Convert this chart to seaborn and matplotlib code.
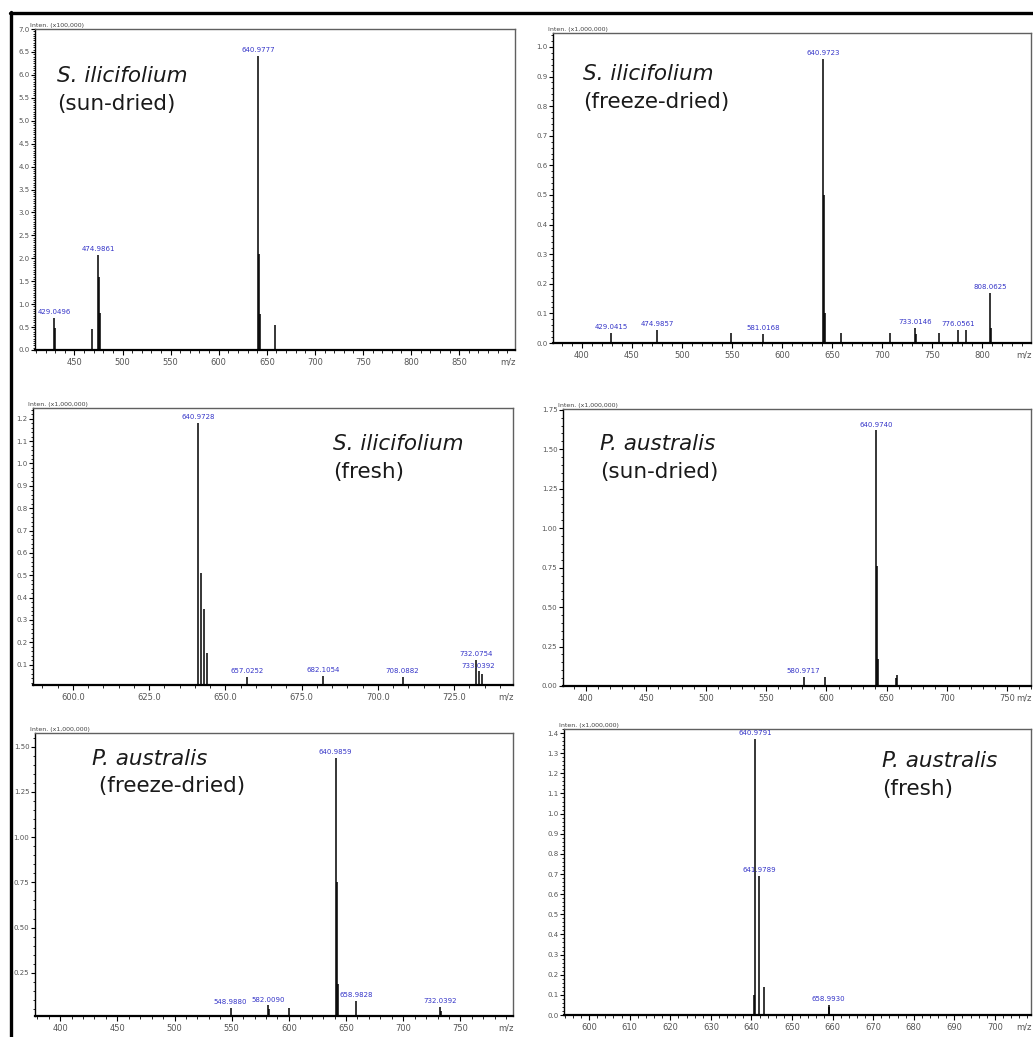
import numpy as np
import matplotlib
matplotlib.use('Agg')
import matplotlib.pyplot as plt
from matplotlib.lines import Line2D
from matplotlib.ticker import MultipleLocator, FormatStrFormatter
import seaborn as sns

sns.set_theme(style="ticks")
plt.rcParams['font.family'] = ['DejaVu Sans']

# ====== DATA (m/z, intensity, peak labels)

# S. ilicifolium sun-dried (x100,000)
si_sun_mz = [429.0496, 430.05, 467.99, 474.9861, 475.99, 476.98, 640.9777, 641.98, 642.98, 658.99]
si_sun_int = [0.70, 0.48, 0.46, 2.07, 1.59, 0.80, 6.41, 2.10, 0.78, 0.54]
si_sun_lab = ['429.0496', '', '', '474.9861', '', '', '640.9777', '', '', '']

# S. ilicifolium freeze-dried (x1,000,000)
si_frz_mz = [429.0415, 474.9857, 548.99, 581.0168, 640.9723, 641.98, 642.98, 658.99, 708.0,
             733.0146, 734.02, 757.0, 776.0561, 784.0, 808.0625, 809.07]
si_frz_int = [0.035, 0.045, 0.035, 0.03, 0.96, 0.50, 0.10, 0.035, 0.035,
              0.05, 0.03, 0.035, 0.045, 0.045, 0.17, 0.05]
si_frz_lab = ['429.0415', '474.9857', '', '581.0168', '640.9723', '', '', '', '',
              '733.0146', '', '', '776.0561', '', '808.0625', '']

# S. ilicifolium fresh (x1,000,000)
si_fre_mz = [640.9728, 641.98, 642.98, 643.98, 657.0252, 682.1054, 708.0882, 732.0754, 733.0392, 734.04]
si_fre_int = [1.18, 0.51, 0.35, 0.15, 0.045, 0.05, 0.045, 0.12, 0.07, 0.06]
si_fre_lab = ['640.9728', '', '', '', '657.0252', '682.1054', '708.0882', '732.0754', '733.0392', '']

# P. australis sun-dried (x1,000,000)
pa_sun_mz = [580.9717, 598.98, 640.9740, 641.98, 642.98, 657.98, 658.99]
pa_sun_int = [0.06, 0.055, 1.62, 0.76, 0.17, 0.05, 0.07]
pa_sun_lab = ['580.9717', '', '640.9740', '', '', '', '']

# P. australis freeze-dried (x1,000,000)
pa_frz_mz = [548.9880, 582.0090, 583.01, 600.0, 640.9859, 641.98, 642.98, 658.9828, 732.0392, 733.04]
pa_frz_int = [0.055, 0.07, 0.05, 0.055, 1.44, 0.75, 0.19, 0.095, 0.06, 0.04]
pa_frz_lab = ['548.9880', '582.0090', '', '', '640.9859', '', '', '658.9828', '732.0392', '']

# P. australis fresh (x1,000,000)
pa_fre_mz = [640.6, 640.9791, 641.9789, 642.98, 658.9930, 659.2]
pa_fre_int = [0.10, 1.37, 0.69, 0.14, 0.05, 0.04]
pa_fre_lab = ['', '640.9791', '641.9789', '', '658.9930', '']

# ====== LAYOUT (pixels: left, top, right, bottom)
W, H = 1033, 1037
panels = [
    dict(mz=si_sun_mz, inten=si_sun_int, lab=si_sun_lab, box=(35, 29, 515, 350),
         xlim=(409, 908), ylim=(0, 7.0), xt=(450, 851, 50), xminor=10, yt=(0, 7.01, 0.5), yminor=0.05,
         xfmt='%d', yfmt='%.1f', scale='Inten. (x100,000)',
         species='S. ilicifolium', state='(sun-dried)', tx=(0.046, 0.046), ty=(0.835, 0.748)),
    dict(mz=si_frz_mz, inten=si_frz_int, lab=si_frz_lab, box=(553, 33, 1031, 343),
         xlim=(371, 849), ylim=(0, 1.047), xt=(400, 801, 50), xminor=10, yt=(0, 1.01, 0.1), yminor=0.02,
         xfmt='%d', yfmt='%.1f', scale='Inten. (x1,000,000)',
         species='S. ilicifolium', state='(freeze-dried)', tx=(0.063, 0.063), ty=(0.848, 0.758)),
    dict(mz=si_fre_mz, inten=si_fre_int, lab=si_fre_lab, box=(33, 408, 513, 685),
         xlim=(586.9, 744.3), ylim=(0.009, 1.248), xt=(600, 726, 25), xminor=5, yt=(0.1, 1.21, 0.1), yminor=0.02,
         xfmt='%.1f', yfmt='%.1f', scale='Inten. (x1,000,000)',
         species='S. ilicifolium', state='(fresh)', tx=(0.625, 0.625), ty=(0.848, 0.747)),
    dict(mz=pa_sun_mz, inten=pa_sun_int, lab=pa_sun_lab, box=(563, 409, 1031, 686),
         xlim=(381, 770), ylim=(0, 1.755), xt=(400, 751, 50), xminor=10, yt=(0, 1.76, 0.25), yminor=0.05,
         xfmt='%d', yfmt='%.2f', scale='Inten. (x1,000,000)',
         species='P. australis', state='(sun-dried)', tx=(0.079, 0.079), ty=(0.852, 0.751)),
    dict(mz=pa_frz_mz, inten=pa_frz_int, lab=pa_frz_lab, box=(35, 733, 513, 1016),
         xlim=(378, 796), ylim=(0.011, 1.576), xt=(400, 751, 50), xminor=10, yt=(0.25, 1.51, 0.25), yminor=0.05,
         xfmt='%d', yfmt='%.2f', scale='Inten. (x1,000,000)',
         species='P. australis', state=' (freeze-dried)', tx=(0.119, 0.119), ty=(0.887, 0.792)),
    dict(mz=pa_fre_mz, inten=pa_fre_int, lab=pa_fre_lab, box=(564, 729, 1031, 1015),
         xlim=(593.8, 708.9), ylim=(0, 1.42), xt=(600, 701, 10), xminor=2, yt=(0, 1.41, 0.1), yminor=0.02,
         xfmt='%d', yfmt='%.1f', scale='Inten. (x1,000,000)',
         species='P. australis', state='(fresh)', tx=(0.681, 0.681), ty=(0.867, 0.769)),
]

fig = plt.figure(figsize=(W / 100, H / 100), dpi=100)
fig.patch.set_facecolor('white')

tick_col = '#555555'
peak_col = '#3535c8'

# outer frame (left and top edges), kept behind the panels
fig.add_artist(Line2D([11 / W, 11 / W], [0, 1 - 12 / H], color='black', lw=2.4, zorder=-1))
fig.add_artist(Line2D([10 / W, 1], [1 - 13 / H, 1 - 13 / H], color='black', lw=2.4, zorder=-1))

for p in panels:
    l, t, r, b = p['box']
    ax = fig.add_axes([l / W, 1 - b / H, (r - l) / W, (b - t) / H])
    ax.set_facecolor('white')

    # stick spectrum
    ax.vlines(p['mz'], 0, p['inten'], color='black', lw=1.1)
    for mz, y, s in zip(p['mz'], p['inten'], p['lab']):
        if s:
            ax.annotate(s, (mz, y), xytext=(0, 2), textcoords='offset points',
                        ha='center', va='bottom', fontsize=5, color=peak_col)

    ax.set_xlim(*p['xlim'])
    ax.set_ylim(*p['ylim'])
    ax.set_xticks(np.arange(*p['xt']))
    ax.set_yticks(np.arange(*p['yt']))
    ax.xaxis.set_minor_locator(MultipleLocator(p['xminor']))
    ax.yaxis.set_minor_locator(MultipleLocator(p['yminor']))
    ax.xaxis.set_major_formatter(FormatStrFormatter(p['xfmt']))
    ax.yaxis.set_major_formatter(FormatStrFormatter(p['yfmt']))
    ax.tick_params(which='major', direction='out', length=3.5, width=0.8, colors='black',
                   labelcolor=tick_col, labelsize=6, pad=2)
    ax.tick_params(axis='y', which='major', length=3, labelsize=5, pad=1)
    ax.tick_params(which='minor', direction='out', length=1.8, width=0.6, colors='black')

    for side in ['top', 'right']:
        ax.spines[side].set_color('#606060')
        ax.spines[side].set_linewidth(1.0)
    ax.spines['bottom'].set_color('black')
    ax.spines['bottom'].set_linewidth(1.6)
    ax.spines['left'].set_color('black')
    ax.spines['left'].set_linewidth(1.0)

    ax.annotate('m/z', xy=(0.985, 0), xycoords='axes fraction', xytext=(0, -5.5),
                textcoords='offset points', ha='center', va='top', fontsize=6, color=tick_col)
    ax.text(-0.01, 1.004, p['scale'], transform=ax.transAxes, ha='left', va='bottom',
            fontsize=4.5, color='#444444')

    ax.text(p['tx'][0], p['ty'][0], p['species'], transform=ax.transAxes, ha='left',
            va='baseline', fontsize=15.5, style='italic', color='#1a1a1a')
    ax.text(p['tx'][1], p['ty'][1], p['state'], transform=ax.transAxes, ha='left',
            va='baseline', fontsize=15.5, color='#1a1a1a')

fig.savefig('out.png', dpi=100)
plt.close()
